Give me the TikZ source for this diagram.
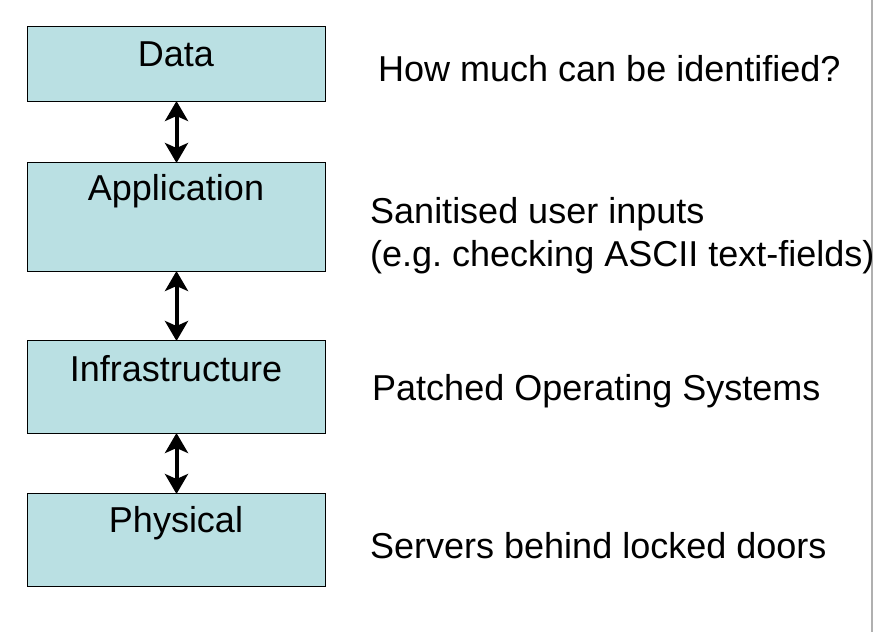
\documentclass[tikz,border=0pt]{standalone}
\usepackage{fontspec}
\setmainfont{Liberation Sans}
\usetikzlibrary{arrows.meta}
\definecolor{boxfill}{HTML}{BAE0E3}
\definecolor{edgegrey}{HTML}{B0B0B0}
\begin{document}
\frenchspacing
\begin{tikzpicture}[x=1pt,y=-1pt,
  layer/.style={draw=black,line width=1pt,fill=boxfill,minimum width=298pt,inner sep=0pt,anchor=north west},
  lbl/.style={font=\fontsize{36}{42}\selectfont,inner sep=0pt},
  note/.style={font=\fontsize{36}{42}\selectfont,inner sep=0pt,anchor=west,align=left},
  link/.style={line width=4pt,{Stealth[length=20pt,width=23pt,inset=5pt]}-{Stealth[length=20pt,width=23pt,inset=5pt]},shorten <=-1pt,shorten >=-1pt}]
\useasboundingbox (0,0) rectangle (874,632);
\fill[white] (0,0) rectangle (874,632);
\draw[edgegrey,line width=1.5pt] (872,0) -- (872,632);
\node[layer,minimum height=75pt] (data) at (27,26) {};
\node[layer,minimum height=109pt] (app) at (27,162) {};
\node[layer,minimum height=93pt] (infra) at (27,340) {};
\node[layer,minimum height=93pt] (phys) at (27,493) {};
\node[lbl] (tdata) at (176,54) {Data};
\node[lbl] (tapp) at (176,191) {Application};
\node[lbl] (tinfra) at (176,369) {Infrastructure};
\node[lbl] (tphys) at (176,523) {Physical};
\draw[link] (data.south) -- (app.north);
\draw[link] (app.south) -- (infra.north);
\draw[link] (infra.south) -- (phys.north);
\node[note] (n1) at (378,69) {How much can be identified?};
\node[note] (n2a) at (370,214) {Sanitised user inputs};
\node[note] (n2b) at (370,257) {(e.g. checking ASCII text-fields)};
\node[note] (n3) at (372,391) {Patched Operating Systems};
\node[note] (n4) at (370,546) {Servers behind locked doors};
\end{tikzpicture}
\end{document}
